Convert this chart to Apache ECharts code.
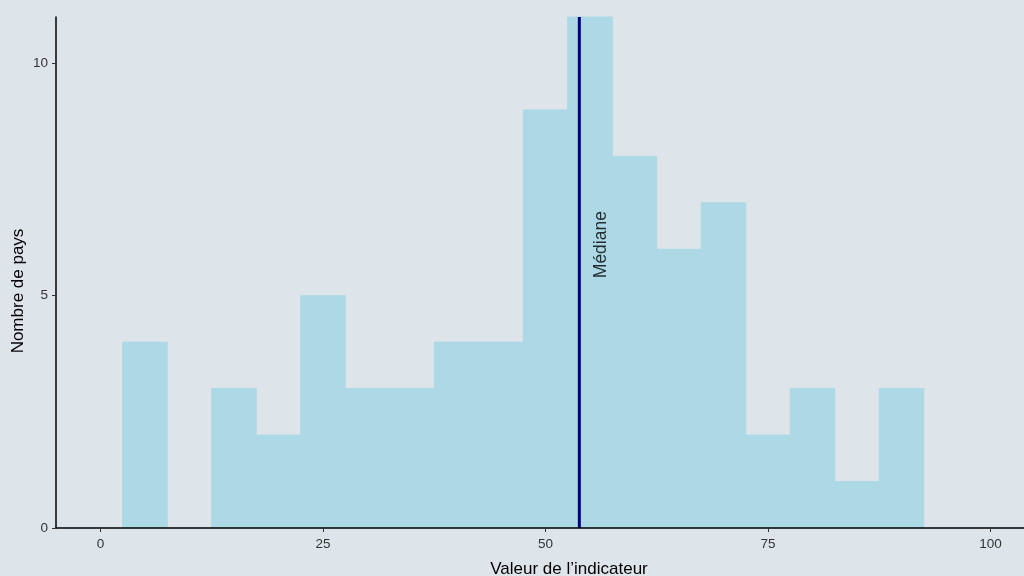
<!DOCTYPE html>
<html>
<head>
<meta charset="utf-8">
<script src="https://cdn.jsdelivr.net/npm/echarts@6/dist/echarts.min.js"></script>
<style>
html,body{margin:0;padding:0;background:#dee5ea;}
#c{width:1024px;height:576px;}
</style>
</head>
<body>
<div id="c"></div>
<script>
// Histogram bins (width 5)
const binStarts = [2.5, 7.5, 12.5, 17.5, 22.5, 27.5, 32.5, 37.5, 42.5, 47.5, 52.5, 57.5, 62.5, 67.5, 72.5, 77.5, 82.5, 87.5];
const binWidth = 5;
const counts = [4, 0, 3, 2, 5, 3, 3, 4, 4, 9, 11, 8, 6, 7, 2, 3, 1, 3];
const medianValue = 53.8;
const medianLabel = 'Médiane';
const xTicks = [0, 25, 50, 75, 100];
const yTicks = [0, 5, 10];
const xTitle = 'Valeur de l\u2019indicateur';
const yTitle = 'Nombre de pays';

const barData = binStarts.map((s, i) => [s, s + binWidth, counts[i]]);
const FONT = '"Liberation Sans", Arial, sans-serif';

const chart = echarts.init(document.getElementById('c'), null, {renderer: 'canvas'});
chart.setOption({
  backgroundColor: '#dee5ea',
  animation: false,
  grid: {left: 56, top: 17, right: 0, height: 511, containLabel: false},
  xAxis: {
    type: 'value', min: -5, max: 103.76, z: 10,
    axisLine: {show: true, onZero: false, lineStyle: {color: '#000', width: 1.5}},
    axisTick: {show: true, length: 4, customValues: xTicks, lineStyle: {color: '#333', width: 1}},
    axisLabel: {color: '#333', fontSize: 13.5, fontFamily: FONT, margin: 9, customValues: xTicks},
    splitLine: {show: false}
  },
  yAxis: {
    type: 'value', min: 0, max: 11, z: 10,
    axisLine: {show: true, onZero: false, lineStyle: {color: '#000', width: 1.5}},
    axisTick: {show: true, length: 4, customValues: yTicks, lineStyle: {color: '#333', width: 1}},
    axisLabel: {color: '#333', fontSize: 13.5, fontFamily: FONT, margin: 8, customValues: yTicks},
    splitLine: {show: false}
  },
  series: [
    {
      type: 'custom',
      data: barData,
      renderItem: function (params, api) {
        if (!(api.value(2) > 0)) return null;
        const p0 = api.coord([api.value(0), 0]);
        const p1 = api.coord([api.value(1), api.value(2)]);
        return {
          type: 'rect',
          shape: {x: p0[0], y: p1[1], width: p1[0] - p0[0], height: p0[1] - p1[1]},
          style: {fill: '#add8e6', stroke: '#add8e6', lineWidth: 1}
        };
      },
      encode: {x: [0, 1], y: 2},
      z: 2
    },
    {
      type: 'line',
      data: [[medianValue, 0], [medianValue, 11]],
      symbol: 'none',
      lineStyle: {color: '#000080', width: 3},
      z: 3
    },
    {
      type: 'scatter',
      data: [[medianValue + 2.4, 6.1]],
      symbolSize: 0,
      label: {
        show: true, position: 'inside', rotate: 90,
        formatter: medianLabel, color: '#000', fontSize: 17.5, fontFamily: FONT
      },
      z: 4
    }
  ],
  graphic: [
    {type: 'text', x: 569, y: 569,
      style: {text: xTitle, fill: '#000', font: '17px ' + FONT, textAlign: 'center', textVerticalAlign: 'middle'}},
    {type: 'text', rotation: Math.PI / 2, x: 18, y: 291,
      style: {text: yTitle, fill: '#000', font: '17px ' + FONT, textAlign: 'center', textVerticalAlign: 'middle'}}
  ]
});
</script>
</body>
</html>
